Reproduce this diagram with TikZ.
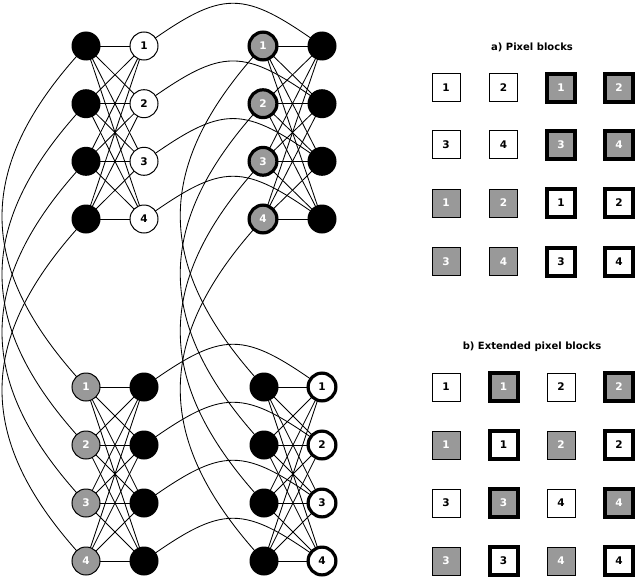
\documentclass[tikz,border=0pt]{standalone}
\usepackage{fontspec}
\setsansfont{DejaVu Sans}
\usetikzlibrary{backgrounds}
\definecolor{pgray}{RGB}{153,153,153}
\begin{document}
\begin{tikzpicture}[x=1pt,y=-1pt,
  every node/.style={font=\sffamily\bfseries\fontsize{10.5}{12}\selectfont, inner sep=0pt},
  blk/.style={circle,fill=black,minimum size=29pt},
  wcirc/.style={circle,draw=black,line width=1pt,fill=white,minimum size=28pt},
  gcirc/.style={circle,draw=black,line width=1pt,fill=pgray,text=white,minimum size=28pt},
  gthick/.style={circle,draw=black,line width=3.2pt,fill=pgray,text=white,minimum size=27.8pt},
  wthick/.style={circle,draw=black,line width=3.2pt,fill=white,minimum size=27.8pt},
  wsq/.style={rectangle,draw=black,line width=1pt,fill=white,minimum size=28pt},
  gsq/.style={rectangle,draw=black,line width=1pt,fill=pgray,text=white,minimum size=28pt},
  wsqT/.style={rectangle,draw=black,line width=4pt,fill=white,minimum size=28pt},
  gsqT/.style={rectangle,draw=black,line width=4pt,fill=pgray,text=white,minimum size=28pt},
  title/.style={font=\sffamily\bfseries\fontsize{10}{12}\selectfont},
  link/.style={draw=black,line width=0.85pt}
]
\useasboundingbox (0,0) rectangle (636,578);
% graph nodes
\foreach \i/\y in {1/46,2/103.7,3/161.3,4/219} {
  \node[blk] (Ab\i) at (86,\y) {};
  \node[wcirc] (Aw\i) at (144,\y) {\i};
  \node[gthick] (Bg\i) at (263,\y) {\i};
  \node[blk] (Bb\i) at (322,\y) {};
}
\foreach \i/\y in {1/387,2/445,3/503,4/561} {
  \node[gcirc] (Cg\i) at (86,\y) {\i};
  \node[blk] (Cb\i) at (144,\y) {};
  \node[blk] (Db\i) at (264,\y) {};
  \node[wthick] (Dw\i) at (322,\y) {\i};
}
% connectors
\begin{scope}[on background layer]
\foreach \i in {1,...,4} {
  \foreach \j in {1,...,4} {
    \draw[link] (Ab\i.center) -- (Aw\j.center);
    \draw[link] (Bg\i.center) -- (Bb\j.center);
    \draw[link] (Cg\i.center) -- (Cb\j.center);
    \draw[link] (Db\i.center) -- (Dw\j.center);
  }
}
\foreach \i in {1,...,4} {
  \draw[link] (Aw\i.center) .. controls +(80,-57) and +(-80,-57) .. (Bb\i.center);
  \draw[link] (Cb\i.center) .. controls +(80,-57) and +(-80,-57) .. (Dw\i.center);
  \draw[link] (Ab\i.center) .. controls +(-112,120) and +(-112,-120) .. (Cg\i.center);
  \draw[link] (Bg\i.center) .. controls +(-111,120) and +(-111,-120) .. (Db\i.center);
}
\end{scope}
% titles
\node[title] (ta) at (532,47) {a) Pixel blocks};
\node[title] (tb) at (532,347) {b) Extended pixel blocks};
% grid a
\node[wsq]  (a11) at (446,87.5) {1};
\node[wsq]  (a12) at (503.5,87.5) {2};
\node[gsqT] (a13) at (561,87.5) {1};
\node[gsqT] (a14) at (619,87.5) {2};
\node[wsq]  (a21) at (446,144.5) {3};
\node[wsq]  (a22) at (503.5,144.5) {4};
\node[gsqT] (a23) at (561,144.5) {3};
\node[gsqT] (a24) at (619,144.5) {4};
\node[gsq]  (a31) at (446,203) {1};
\node[gsq]  (a32) at (503.5,203) {2};
\node[wsqT] (a33) at (561,203) {1};
\node[wsqT] (a34) at (619,203) {2};
\node[gsq]  (a41) at (446,261.5) {3};
\node[gsq]  (a42) at (503.5,261.5) {4};
\node[wsqT] (a43) at (561,261.5) {3};
\node[wsqT] (a44) at (619,261.5) {4};
% grid b
\node[wsq]  (b11) at (446,387) {1};
\node[gsqT] (b12) at (503.5,387) {1};
\node[wsq]  (b13) at (561,387) {2};
\node[gsqT] (b14) at (619,387) {2};
\node[gsq]  (b21) at (446,445) {1};
\node[wsqT] (b22) at (503.5,445) {1};
\node[gsq]  (b23) at (561,445) {2};
\node[wsqT] (b24) at (619,445) {2};
\node[wsq]  (b31) at (446,503) {3};
\node[gsqT] (b32) at (503.5,503) {3};
\node[wsq]  (b33) at (561,503) {4};
\node[gsqT] (b34) at (619,503) {4};
\node[gsq]  (b41) at (446,561) {3};
\node[wsqT] (b42) at (503.5,561) {3};
\node[gsq]  (b43) at (561,561) {4};
\node[wsqT] (b44) at (619,561) {4};
\end{tikzpicture}
\end{document}
